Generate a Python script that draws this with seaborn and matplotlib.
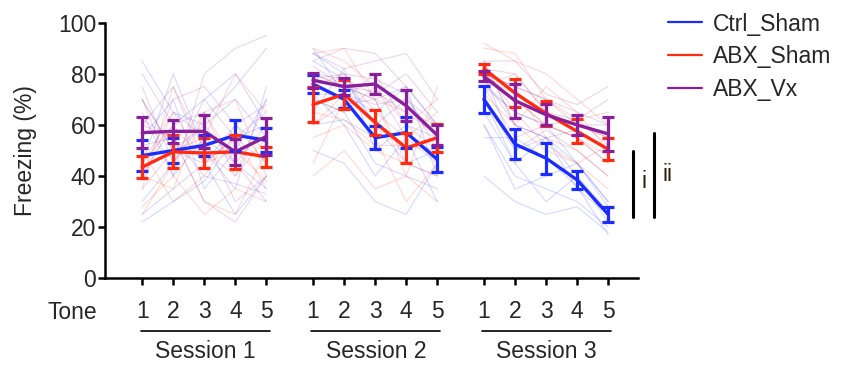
import numpy as np
import pandas as pd
import matplotlib
matplotlib.use("Agg")
import matplotlib.pyplot as plt
import seaborn as sns
from matplotlib.lines import Line2D

sns.set_theme(style="ticks")
plt.rcParams["font.family"] = ["Liberation Sans", "DejaVu Sans"]

# ---------------- data ----------------
groups = ["Ctrl_Sham", "ABX_Sham", "ABX_Vx"]
sessions = ["Session 1", "Session 2", "Session 3"]
tones = [1, 2, 3, 4, 5]
tick_labels = ["1", "2", "3", "4", "5"]

# group means (15 values: session 1 tones 1-5, session 2, session 3)
ctrl_sham_mean = [48, 50, 52, 56, 54, 76, 70, 55, 57, 46.5, 70, 52.5, 47, 38.5, 25]
abx_sham_mean = [43.5, 49.5, 49, 49.5, 47.5, 68, 72, 61, 51, 55, 82, 72.5, 64.5, 57.5, 50.5]
abx_vx_mean = [57, 57.5, 57.5, 49.5, 55.5, 77.5, 75, 76, 67.5, 56, 79, 69.5, 64, 60, 56.5]

ctrl_sham_sem = [6, 5, 4, 6, 4.7, 3.5, 3.5, 4.5, 6, 5, 5.2, 6, 6, 3.4, 3]
abx_sham_sem = [4.2, 6.5, 6, 6.7, 3.8, 6.7, 5.7, 5, 6, 5.5, 2, 5.6, 5, 4.7, 4.2]
abx_vx_sem = [6, 4.5, 6.5, 5, 7.4, 3, 3.2, 4, 6, 4, 2, 6.7, 4, 4, 6.5]

# individual animals (faint lines)
ctrl_sham_subjects = [
    [30, 45, 62, 75, 90, 88, 80, 60, 70, 55, 85, 60, 55, 45, 30],
    [65, 40, 55, 45, 35, 70, 65, 45, 40, 35, 60, 40, 35, 30, 20],
    [40, 60, 70, 80, 60, 80, 75, 70, 75, 60, 75, 65, 60, 45, 28],
    [55, 70, 35, 50, 70, 72, 60, 40, 55, 30, 65, 45, 30, 40, 22],
    [25, 35, 45, 60, 50, 85, 78, 60, 45, 50, 80, 50, 55, 35, 25],
    [70, 50, 45, 25, 40, 60, 62, 55, 57, 48, 55, 55, 47, 36, 17],
    [22, 30, 38, 55, 45, 50, 45, 30, 25, 45, 40, 30, 25, 28, 18],
    [85, 65, 60, 70, 55, 90, 72, 65, 75, 40, 70, 45, 55, 40, 26],
    [45, 80, 50, 35, 75, 65, 82, 50, 60, 55, 60, 35, 40, 45, 30],
]
abx_sham_subjects = [
    [35, 75, 50, 40, 55, 90, 85, 75, 60, 70, 92, 85, 80, 70, 60],
    [50, 30, 40, 60, 45, 45, 70, 55, 30, 45, 78, 70, 60, 55, 45],
    [25, 45, 65, 70, 40, 75, 80, 65, 55, 65, 85, 60, 75, 65, 50],
    [60, 55, 30, 25, 50, 55, 60, 50, 45, 40, 80, 75, 55, 50, 40],
    [45, 60, 45, 55, 35, 80, 75, 70, 65, 60, 75, 80, 65, 60, 55],
    [40, 35, 65, 45, 60, 65, 62, 52, 52, 50, 82, 65, 52, 45, 52],
    [28, 40, 25, 35, 30, 40, 50, 35, 40, 30, 72, 60, 50, 45, 35],
    [70, 50, 55, 80, 65, 88, 90, 70, 40, 75, 90, 88, 70, 62, 65],
    [38, 65, 45, 50, 38, 60, 72, 60, 50, 55, 80, 70, 60, 55, 48],
]
abx_vx_subjects = [
    [70, 40, 80, 90, 95, 85, 90, 88, 75, 60, 80, 75, 70, 65, 60],
    [45, 65, 55, 30, 40, 70, 65, 75, 55, 45, 75, 55, 60, 55, 45],
    [60, 75, 45, 55, 65, 80, 78, 72, 80, 65, 82, 80, 65, 62, 70],
    [35, 50, 60, 45, 30, 75, 70, 80, 60, 50, 78, 60, 55, 58, 50],
    [80, 60, 65, 40, 70, 72, 72, 68, 70, 60, 80, 75, 70, 60, 55],
    [52, 55, 40, 37, 33, 83, 75, 73, 65, 56, 79, 72, 64, 60, 60],
    [62, 55, 30, 22, 40, 60, 68, 70, 45, 40, 70, 50, 58, 50, 40],
    [40, 70, 75, 60, 68, 88, 82, 85, 88, 70, 85, 85, 72, 68, 75],
    [75, 45, 70, 55, 60, 78, 80, 78, 72, 50, 76, 65, 60, 62, 52],
]

means = {"Ctrl_Sham": ctrl_sham_mean, "ABX_Sham": abx_sham_mean, "ABX_Vx": abx_vx_mean}
sems = {"Ctrl_Sham": ctrl_sham_sem, "ABX_Sham": abx_sham_sem, "ABX_Vx": abx_vx_sem}
subjects = {"Ctrl_Sham": ctrl_sham_subjects, "ABX_Sham": abx_sham_subjects, "ABX_Vx": abx_vx_subjects}

# ---------------- layout / style ----------------
colors = {"Ctrl_Sham": "#1b2cff", "ABX_Sham": "#ff2a10", "ABX_Vx": "#8a1f9c"}
session_offset = [0.0, 5.5, 11.0]
FS = 16.5

# tidy tables
ind_rows, mean_rows = [], []
for g in groups:
    for si, s in enumerate(sessions):
        for ti, t in enumerate(tones):
            k = si * 5 + ti
            x = session_offset[si] + ti
            mean_rows.append(dict(group=g, session=s, x=x, mean=means[g][k], sem=sems[g][k]))
            for j, subj in enumerate(subjects[g]):
                ind_rows.append(dict(group=g, unit=f"{g}-{j}-{s}", x=x, value=subj[k]))
ind_df = pd.DataFrame(ind_rows)
mean_df = pd.DataFrame(mean_rows)

W, H = 841, 370
fig = plt.figure(figsize=(W / 100, H / 100), dpi=100)
ax_l, ax_r, ax_t, ax_b = 105.5, 638.3, 22.7, 278.3
ax = fig.add_axes([ax_l / W, 1 - ax_b / H, (ax_r - ax_l) / W, (ax_b - ax_t) / H])

sns.lineplot(data=ind_df, x="x", y="value", hue="group", palette=colors, units="unit",
             estimator=None, lw=0.8, alpha=0.18, legend=False, ax=ax)
sns.lineplot(data=mean_df, x="x", y="mean", hue="group", palette=colors, units="session",
             estimator=None, lw=2.4, legend=False, ax=ax)
for g in groups:
    d = mean_df[mean_df.group == g]
    ax.errorbar(d["x"], d["mean"], yerr=d["sem"], fmt="none", ecolor=colors[g],
                elinewidth=2.3, capsize=4.6, capthick=2.3, zorder=3)

ax.set_xlim(-1.18, 15.97)
ax.set_ylim(0, 100)
sns.despine(ax=ax)
for sp in ("left", "bottom"):
    ax.spines[sp].set_linewidth(1.8)
    ax.spines[sp].set_color("black")

xt = [session_offset[si] + ti for si in range(3) for ti in range(5)]
ax.set_xticks(xt, tick_labels * 3)
ax.set_yticks([0, 20, 40, 60, 80, 100])
ax.tick_params(axis="x", length=5, width=1.8, pad=10.7, labelsize=FS, color="black")
ax.tick_params(axis="y", length=4.7, width=1.8, pad=2, labelsize=FS, color="black")
ax.set_xlabel("")
ax.set_ylabel("Freezing (%)", fontsize=FS)
ax.yaxis.set_label_coords(-0.128, 0.5)

# Tone label and session brackets
ax.text(-0.0165, -0.1346, "Tone", transform=ax.transAxes, ha="right", va="center", fontsize=FS)
trans = matplotlib.transforms.blended_transform_factory(ax.transData, ax.transAxes)
for si, s in enumerate(sessions):
    o = session_offset[si]
    ax.plot([o - 0.05, o + 4.1], [-0.205, -0.205], color="black", lw=1.2,
            transform=trans, clip_on=False)
    ax.text(o + 2.02, -0.287, s, transform=trans, ha="center", va="center", fontsize=FS)

# significance bars
ax.plot([15.81, 15.81], [23.9, 49.8], color="black", lw=2.2, clip_on=False)
ax.plot([16.48, 16.48], [23.9, 57.0], color="black", lw=2.2, clip_on=False)
ax.text(16.14, 37.8, "i", ha="center", va="center", fontsize=FS, color="#2a1e08")
ax.text(16.92, 40.8, "ii", ha="center", va="center", fontsize=FS, color="#2a1e08")

# legend
handles = [Line2D([], [], color=colors[g], lw=1.6) for g in groups]
fig.legend(handles, groups, loc="upper left", bbox_to_anchor=(668 / W, 1 - 12.5 / H),
           frameon=False, fontsize=FS, borderpad=0, borderaxespad=0,
           handlelength=1.5, handletextpad=0.45, labelspacing=0.43)

fig.savefig("out.png", dpi=100)
